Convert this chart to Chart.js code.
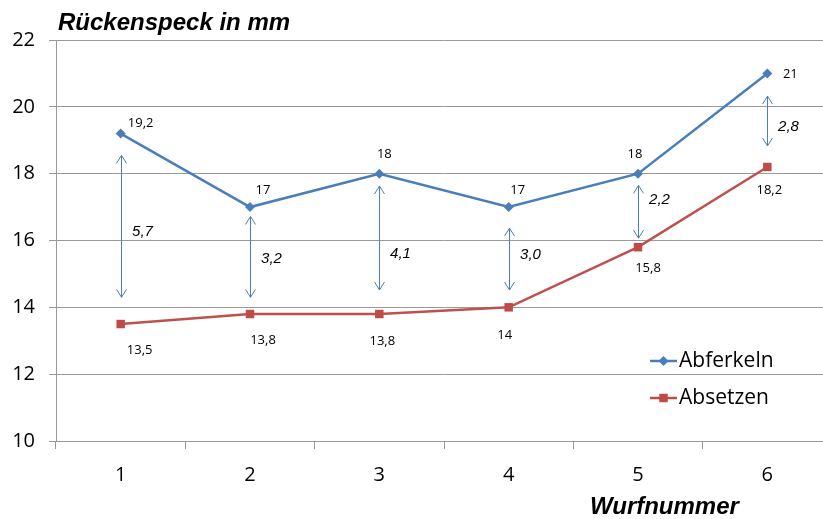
<!DOCTYPE html>
<html>
<head>
<meta charset="utf-8">
<script src="https://cdn.jsdelivr.net/npm/chart.js@4"></script>
<style>
  html, body { margin: 0; padding: 0; background: #fff; overflow: hidden; }
  #wrap { width: 838px; height: 519px; position: relative; }
</style>
</head>
<body>
<div id="wrap"><canvas id="chart" width="838" height="519"></canvas></div>
<script>
// -- data --
const wurf = ['1', '2', '3', '4', '5', '6'];
const abferkeln = [19.2, 17, 18, 17, 18, 21];
const absetzen = [13.5, 13.8, 13.8, 14, 15.8, 18.2];
const differenz = [5.7, 3.2, 4.1, 3.0, 2.2, 2.8];
// arrow ends and label anchors (in mm)
const arrowTop = [18.55, 16.72, 17.63, 16.37, 17.65, 20.32];
const arrowBottom = [14.3, 14.3, 14.52, 14.52, 16.07, 18.83];
const diffLabelAt = [16.26, 15.44, 15.6, 15.57, 17.21, 19.4];
const yTicks = [10, 12, 14, 16, 18, 20, 22];

const BLUE = '#4a7ebb';
const RED = '#be4b48';
const GRID = '#999999';
const TICK_FONT = "'Open Sans', 'Liberation Sans', sans-serif";
const ARIAL = "'Liberation Sans', Arial, sans-serif";

const fmt = (v, d) => (d == null ? String(v) : v.toFixed(d)).replace('.', ',');

// label offsets (px) relative to the points
const offA = [[20, -10], [13, -17], [5, -19], [9, -17], [-3, -19], [23, 1]];
const offB = [[19, 26], [13, 26], [3, 27], [-4, 28], [10, 21], [2, 23]];

const annotations = {
    id: 'annotations',
    afterDatasetsDraw(chart) {
        const { ctx, scales: { x, y } } = chart;
        ctx.save();

        // double headed arrows + difference labels
        ctx.strokeStyle = BLUE;
        ctx.lineWidth = 1;
        wurf.forEach((w, i) => {
            const px = Math.round(x.getPixelForValue(i)) + 0.5;
            const t = y.getPixelForValue(arrowTop[i]);
            const b = y.getPixelForValue(arrowBottom[i]);
            ctx.beginPath();
            ctx.moveTo(px, t); ctx.lineTo(px, b);
            ctx.moveTo(px - 5, t + 8); ctx.lineTo(px, t); ctx.lineTo(px + 5, t + 8);
            ctx.moveTo(px - 5, b - 8); ctx.lineTo(px, b); ctx.lineTo(px + 5, b - 8);
            ctx.stroke();

            ctx.fillStyle = '#000';
            ctx.font = 'italic 15px ' + ARIAL;
            ctx.textAlign = 'center';
            ctx.textBaseline = 'middle';
            ctx.fillText(fmt(differenz[i], 1), px + 21, y.getPixelForValue(diffLabelAt[i]));
        });

        // data labels
        ctx.font = '13px ' + TICK_FONT;
        ctx.fillStyle = '#000';
        const metaA = chart.getDatasetMeta(0).data;
        const metaB = chart.getDatasetMeta(1).data;
        abferkeln.forEach((v, i) => {
            ctx.fillText(fmt(v), metaA[i].x + offA[i][0], metaA[i].y + offA[i][1]);
        });
        absetzen.forEach((v, i) => {
            ctx.fillText(fmt(v), metaB[i].x + offB[i][0], metaB[i].y + offB[i][1]);
        });

        // legend inside plot
        const items = [
            { text: 'Abferkeln', color: BLUE, style: 'rectRot', r: 5, y: 361 },
            { text: 'Absetzen', color: RED, style: 'rect', r: 6, y: 398 },
        ];
        items.forEach((it) => {
            ctx.strokeStyle = it.color;
            ctx.lineWidth = 2.5;
            ctx.beginPath();
            ctx.moveTo(650, it.y); ctx.lineTo(677, it.y);
            ctx.stroke();
            ctx.fillStyle = it.color;
            Chart.helpers.drawPoint(ctx, { pointStyle: it.style, radius: it.r, borderWidth: 0 }, 663.5, it.y);
            ctx.fillStyle = '#000';
            ctx.font = '21px ' + TICK_FONT;
            ctx.textAlign = 'left';
            ctx.fillText(it.text, 679, it.y);
        });

        // titles
        ctx.font = 'italic bold 24px ' + ARIAL;
        ctx.textAlign = 'left';
        ctx.fillText('Rückenspeck in mm', 58, 23);
        ctx.fillText('Wurfnummer', 590, 507);
        ctx.restore();
    },
};

new Chart(document.getElementById('chart'), {
    type: 'line',
    data: {
        labels: wurf,
        datasets: [
            {
                label: 'Abferkeln',
                data: abferkeln,
                borderColor: BLUE,
                backgroundColor: BLUE,
                borderWidth: 2.5,
                pointStyle: 'rectRot',
                pointRadius: 5,
                pointBorderWidth: 0,
                tension: 0,
            },
            {
                label: 'Absetzen',
                data: absetzen,
                borderColor: '#c0504d',
                backgroundColor: RED,
                borderWidth: 2.5,
                pointStyle: 'rect',
                pointRadius: 6,
                pointBorderWidth: 0,
                tension: 0,
            },
        ],
    },
    options: {
        responsive: false,
        animation: false,
        layout: { padding: { top: 40, left: 0, right: 0, bottom: 0 } },
        plugins: {
            legend: { display: false },
            tooltip: { enabled: false },
        },
        scales: {
            x: {
                offset: true,
                grid: {
                    offset: true,
                    drawOnChartArea: false,
                    drawTicks: true,
                    tickLength: 8,
                    color: GRID,
                },
                border: { color: GRID, width: 1 },
                ticks: {
                    color: '#000',
                    padding: 14,
                    font: { family: TICK_FONT, size: 20 },
                },
                afterFit: (s) => { s.height = 78; },
            },
            y: {
                min: 10,
                max: 22,
                afterBuildTicks: (s) => { s.ticks = yTicks.map((v) => ({ value: v })); },
                grid: { color: GRID, tickLength: 7 },
                border: { color: GRID, width: 1 },
                ticks: {
                    color: '#000',
                    padding: 14,
                    font: { family: TICK_FONT, size: 20 },
                },
                afterFit: (s) => { s.width = 56; },
            },
        },
    },
    plugins: [annotations],
});
</script>
</body>
</html>
